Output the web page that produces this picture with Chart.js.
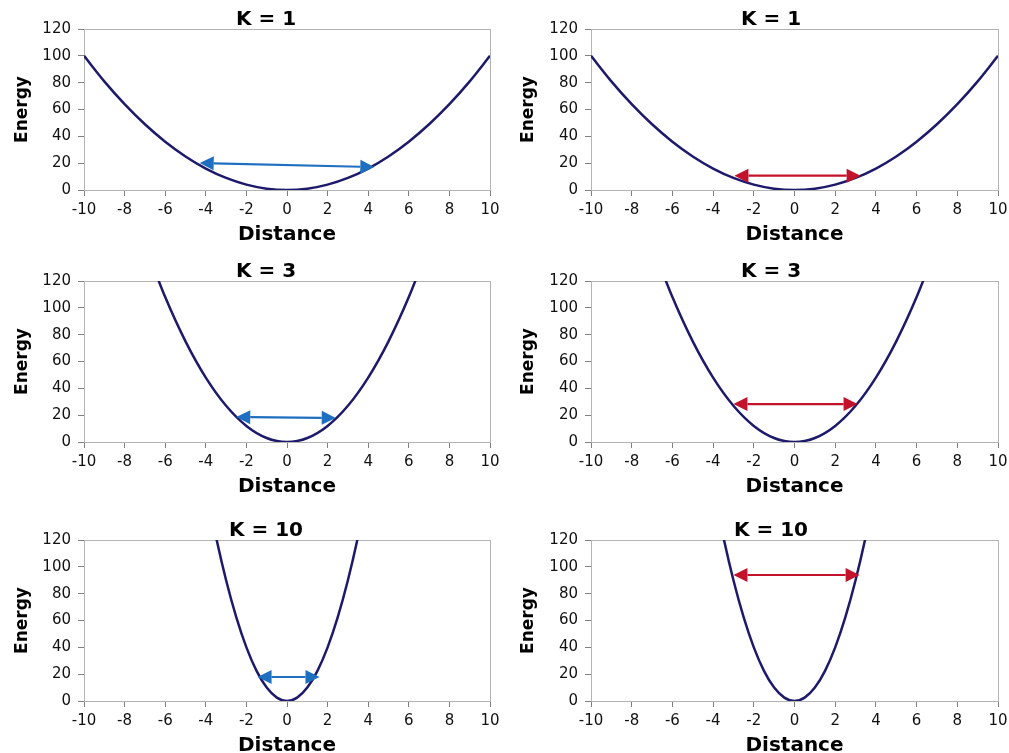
<!DOCTYPE html>
<html>
<head>
<meta charset="utf-8">
<script src="https://cdn.jsdelivr.net/npm/chart.js@4/dist/chart.umd.min.js"></script>
<style>
  html, body { margin: 0; padding: 0; background: #fff; overflow: hidden; width: 1009px; height: 753px; }
  canvas { position: absolute; }
</style>
</head>
<body>
<canvas id="c1" width="532" height="250" style="left:0;top:0"></canvas>
<canvas id="c2" width="532" height="250" style="left:505px;top:0"></canvas>
<canvas id="c3" width="532" height="250" style="left:0;top:252px"></canvas>
<canvas id="c4" width="532" height="250" style="left:505px;top:252px"></canvas>
<canvas id="c5" width="532" height="250" style="left:0;top:511px"></canvas>
<canvas id="c6" width="532" height="250" style="left:505px;top:511px"></canvas>
<script>
// --- data ---
const panelTitles = ["K = 1", "K = 3", "K = 10"];

const distK1 = [-10, -9, -8, -7, -6, -5, -4, -3, -2, -1, 0, 1, 2, 3, 4, 5, 6, 7, 8, 9, 10];
const energyK1 = [100, 81, 64, 49, 36, 25, 16, 9, 4, 1, 0, 1, 4, 9, 16, 25, 36, 49, 64, 81, 100];

const distK3 = [-7, -6, -5, -4, -3, -2, -1, 0, 1, 2, 3, 4, 5, 6, 7];
const energyK3 = [147, 108, 75, 48, 27, 12, 3, 0, 3, 12, 27, 48, 75, 108, 147];

const distK10 = [-4, -3.5, -3, -2.5, -2, -1.5, -1, -0.5, 0, 0.5, 1, 1.5, 2, 2.5, 3, 3.5, 4];
const energyK10 = [160, 122.5, 90, 62.5, 40, 22.5, 10, 2.5, 0, 2.5, 10, 22.5, 40, 62.5, 90, 122.5, 160];

// arrows: [x, y] of the two tips, one per row
const blueArrowStart = [[-4.3, 20.1], [-2.5, 18.6], [-1.45, 17.9]];
const blueArrowEnd   = [[4.3, 17.1], [2.4, 17.9], [1.6, 17.9]];
const redArrowStart  = [[-2.95, 10.7], [-3.0, 28.3], [-3.0, 93.9]];
const redArrowEnd    = [[3.25, 10.7], [3.1, 28.3], [3.2, 93.9]];

const FONT = "'DejaVu Sans', Verdana, sans-serif";
const CURVE_COLOR = "#1d1a6b";
const BLUE = "#1f6fc0";
const RED = "#c3122b";

// light frame around the plot area (top/right edges)
const frame = {
    id: "frame",
    beforeDatasetsDraw(chart) {
        const a = chart.chartArea, ctx = chart.ctx;
        ctx.save();
        ctx.strokeStyle = "#b4b4b4";
        ctx.lineWidth = 1;
        ctx.strokeRect(Math.round(a.left) + 0.5, Math.round(a.top) + 0.5, Math.round(a.right - a.left), Math.round(a.bottom - a.top));
        ctx.restore();
    }
};

// double-headed arrow placed with the chart's own scales
const arrow = {
    id: "arrow",
    afterDatasetsDraw(chart, args, opts) {
        if (!opts.from) return;
        const xs = chart.scales.x, ys = chart.scales.y, ctx = chart.ctx;
        const x1 = xs.getPixelForValue(opts.from[0]), y1 = ys.getPixelForValue(opts.from[1]);
        const x2 = xs.getPixelForValue(opts.to[0]), y2 = ys.getPixelForValue(opts.to[1]);
        const ang = Math.atan2(y2 - y1, x2 - x1);
        const len = 14, half = 7;
        ctx.save();
        ctx.strokeStyle = opts.color;
        ctx.fillStyle = opts.color;
        ctx.lineWidth = 2.2;
        ctx.beginPath();
        ctx.moveTo(x1 + Math.cos(ang) * len, y1 + Math.sin(ang) * len);
        ctx.lineTo(x2 - Math.cos(ang) * len, y2 - Math.sin(ang) * len);
        ctx.stroke();
        const head = (tx, ty, a) => {
            const bx = tx - Math.cos(a) * len, by = ty - Math.sin(a) * len;
            ctx.beginPath();
            ctx.moveTo(tx, ty);
            ctx.lineTo(bx - Math.sin(a) * half, by + Math.cos(a) * half);
            ctx.lineTo(bx + Math.sin(a) * half, by - Math.cos(a) * half);
            ctx.closePath();
            ctx.fill();
        };
        head(x2, y2, ang);
        head(x1, y1, ang + Math.PI);
        ctx.restore();
    }
};

function makePanel(id, title, dist, energy, from, to, color, right) {
    const pts = dist.map((d, i) => ({ x: d, y: energy[i] }));
    new Chart(document.getElementById(id), {
        type: "line",
        data: {
            datasets: [{
                data: pts,
                borderColor: CURVE_COLOR,
                borderWidth: 2.5,
                pointRadius: 0,
                cubicInterpolationMode: "monotone",
                fill: false
            }]
        },
        plugins: [frame, arrow],
        options: {
            responsive: false,
            animation: false,
            devicePixelRatio: 1,
            layout: { padding: 0 },
            plugins: {
                legend: { display: false },
                tooltip: { enabled: false },
                title: {
                    display: true,
                    text: title,
                    color: "#000",
                    font: { family: FONT, size: 20, weight: "bold", lineHeight: 0.9 },
                    padding: { top: 11, bottom: 0 }
                },
                arrow: { from: from, to: to, color: color }
            },
            scales: {
                x: {
                    type: "linear",
                    min: -10, max: 10,
                    afterFit(s) { s.height = 60; },
                    ticks: { stepSize: 2, color: "#111", padding: 5, maxRotation: 0, font: { family: FONT, size: 15 } },
                    grid: { drawOnChartArea: false, drawTicks: true, tickLength: 6, color: "#808080" },
                    border: { color: "#808080", width: 1 },
                    title: { display: true, text: "Distance", color: "#000", padding: { top: 0, bottom: 3 }, font: { family: FONT, size: 20, weight: "bold", lineHeight: 1.2 } }
                },
                y: {
                    min: 0, max: 120,
                    afterFit(s) { s.width = right ? 86 : 84; },
                    ticks: { stepSize: 20, color: "#111", padding: 7, font: { family: FONT, size: 15 } },
                    grid: { drawOnChartArea: false, drawTicks: true, tickLength: 6, color: "#808080" },
                    border: { color: "#808080", width: 1 },
                    title: { display: true, text: "Energy", color: "#000", padding: { top: right ? 13 : 12, bottom: 0 }, font: { family: FONT, size: 17, weight: "bold", lineHeight: 1.2 } }
                },
                // empty right-hand spacer so the title sits where the original has it
                spacer: {
                    position: "right",
                    min: 0, max: 1,
                    afterFit(s) { s.width = right ? 39 : 42; },
                    ticks: { display: false },
                    grid: { display: false },
                    border: { display: false }
                }
            }
        }
    });
}

makePanel("c1", panelTitles[0], distK1, energyK1, blueArrowStart[0], blueArrowEnd[0], BLUE, false);
makePanel("c2", panelTitles[0], distK1, energyK1, redArrowStart[0], redArrowEnd[0], RED, true);
makePanel("c3", panelTitles[1], distK3, energyK3, blueArrowStart[1], blueArrowEnd[1], BLUE, false);
makePanel("c4", panelTitles[1], distK3, energyK3, redArrowStart[1], redArrowEnd[1], RED, true);
makePanel("c5", panelTitles[2], distK10, energyK10, blueArrowStart[2], blueArrowEnd[2], BLUE, false);
makePanel("c6", panelTitles[2], distK10, energyK10, redArrowStart[2], redArrowEnd[2], RED, true);
</script>
</body>
</html>
